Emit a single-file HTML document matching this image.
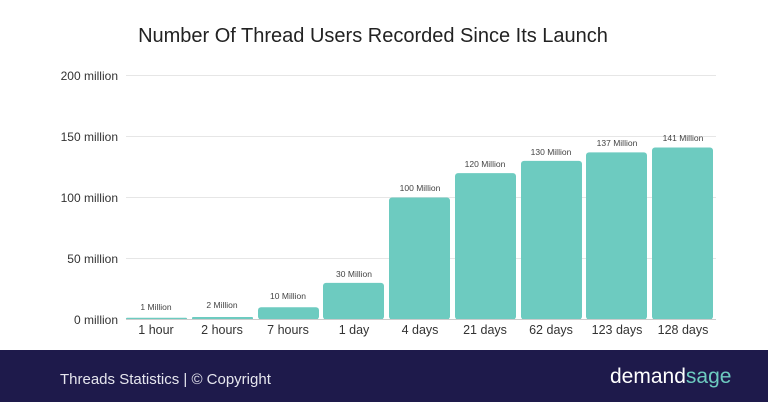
<!DOCTYPE html>
<html><head><meta charset="utf-8"><style>
html,body{margin:0;padding:0;background:#fff;}
body{width:768px;height:402px;overflow:hidden;position:relative;font-family:"Liberation Sans",sans-serif;}
</style></head><body>
<svg width="768" height="402" viewBox="0 0 768 402" xmlns="http://www.w3.org/2000/svg" style="position:absolute;left:0;top:0">
<text x="373" y="42" text-anchor="middle" font-size="20" fill="#222" font-family="Liberation Sans, sans-serif">Number Of Thread Users Recorded Since Its Launch</text>
<g stroke="#e6e6e6" stroke-width="1">
<line x1="126" y1="75.5" x2="716" y2="75.5"/>
<line x1="126" y1="136.5" x2="716" y2="136.5"/>
<line x1="126" y1="197.5" x2="716" y2="197.5"/>
<line x1="126" y1="258.5" x2="716" y2="258.5"/>
</g>
<g font-size="12" fill="#333" text-anchor="end" font-family="Liberation Sans, sans-serif">
<text x="118" y="80">200 million</text>
<text x="118" y="141">150 million</text>
<text x="118" y="202">100 million</text>
<text x="118" y="263">50 million</text>
<text x="118" y="324">0 million</text>
</g>
<g fill="#6dcbc0">
<rect x="126" y="317.8" width="61" height="1.7" rx="1"/>
<rect x="192" y="317" width="61" height="2.5" rx="1"/>
<rect x="258" y="307.3" width="61" height="12.2" rx="3"/>
<rect x="323" y="282.9" width="61" height="36.6" rx="3"/>
<rect x="389" y="197.5" width="61" height="122" rx="3"/>
<rect x="455" y="173.1" width="61" height="146.4" rx="3"/>
<rect x="521" y="160.9" width="61" height="158.6" rx="3"/>
<rect x="586" y="152.4" width="61" height="167.1" rx="3"/>
<rect x="652" y="147.5" width="61" height="172" rx="3"/>
</g>
<line x1="126" y1="319.5" x2="716" y2="319.5" stroke="#ccc" stroke-width="1"/>
<g font-size="8.5" fill="#444" text-anchor="middle" font-family="Liberation Sans, sans-serif">
<text x="156" y="310">1 Million</text>
<text x="222" y="308">2 Million</text>
<text x="288" y="299">10 Million</text>
<text x="354" y="277">30 Million</text>
<text x="420" y="191">100 Million</text>
<text x="485" y="167">120 Million</text>
<text x="551" y="155">130 Million</text>
<text x="617" y="146">137 Million</text>
<text x="683" y="141">141 Million</text>
</g>
<g font-size="12.5" fill="#333" text-anchor="middle" font-family="Liberation Sans, sans-serif">
<text x="156" y="334">1 hour</text>
<text x="222" y="334">2 hours</text>
<text x="288" y="334">7 hours</text>
<text x="354" y="334">1 day</text>
<text x="420" y="334">4 days</text>
<text x="485" y="334">21 days</text>
<text x="551" y="334">62 days</text>
<text x="617" y="334">123 days</text>
<text x="683" y="334">128 days</text>
</g>
<rect x="0" y="350" width="768" height="52" fill="#1e1a4b"/>
<text x="60" y="384" font-size="15" fill="#e6e6ee" font-family="Liberation Sans, sans-serif">Threads Statistics | © Copyright</text>
<text x="610" y="383" font-size="21" fill="#ffffff" font-family="Liberation Sans, sans-serif">demand<tspan fill="#6dcbc0">sage</tspan></text>
</svg>
</body></html>
